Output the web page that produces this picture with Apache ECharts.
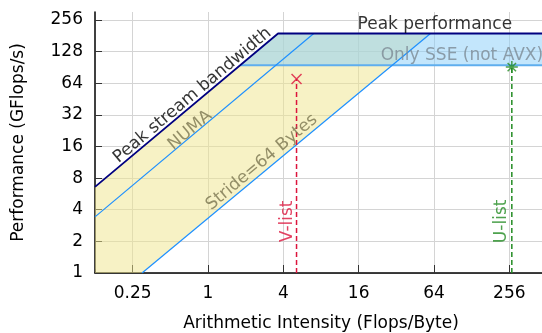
<!DOCTYPE html>
<html lang="en">
  <head>
    <meta charset="UTF-8" />
    <title>Roofline</title>
    <script src="https://cdn.jsdelivr.net/npm/echarts@6.0.0/dist/echarts.min.js"></script>
    <style>
      html, body { margin: 0; padding: 0; background: #fff; }
      #chart { width: 542px; height: 333px; }
    </style>
  </head>
  <body>
    <div id="chart"></div>
    <script type="text/javascript">
      // roofs as [Flops/Byte, GFlops/s] points
      const streamRoof = [[0.125, 6.6], [3.63, 190], [512, 190]];
      const numaRoof = [[0.125, 3.42], [7.0, 190]];
      const strideRoof = [[0.297, 1], [60, 190]];
      const sseRoof = [[1.81, 95], [512, 95]];

      // measured kernels
      const vList = [5.1, 70];
      const uList = [268, 91];

      const xRange = [0.125, 512];
      const yRange = [1, 304.4];

      // text, x, y, rotate, colour, align
      const notes = [
        ["Peak stream bandwidth", 0.75, 49, 40, "#000", "center"],
        ["NUMA", 0.72, 22.8, 40, "#7a7650", "center"],
        ["Stride=64 Bytes", 2.69, 11.3, 40, "#7a7650", "center"],
        ["Peak performance", 65, 232, 0, "#000", "center"],
        ["Only SSE (not AVX)", 24, 118, 0, "#7d8b95", "left"],
        ["V-list", 4.3, 3.1, 90, "#dc143c", "center"],
        ["U-list", 220, 3.1, 90, "#228b22", "center"],
      ];

      // fill areas built from the roof points
      const yellowPoly = [streamRoof[0], streamRoof[1], strideRoof[1], strideRoof[0], [xRange[0], yRange[0]]];
      const bluePoly = [sseRoof[0], streamRoof[1], streamRoof[2], sseRoof[1]];

      const font = "DejaVu Sans";
      const chart = echarts.init(document.getElementById("chart"));

      function polySeries(points, fill) {
        return {
          type: "custom",
          silent: true,
          z: 1,
          data: [0],
          renderItem: (params, api) => ({
            type: "polygon",
            shape: { points: points.map((p) => api.coord(p)) },
            style: { fill: fill },
          }),
        };
      }

      function lineSeries(data, color, width, dash) {
        return {
          type: "line",
          data: data,
          silent: true,
          showSymbol: false,
          z: 3,
          lineStyle: { color: color, width: width, type: dash || "solid" },
        };
      }

      const option = {
        animation: false,
        grid: { left: 95, right: -5, top: 12, bottom: 60, outerBoundsMode: "none", containLabel: false },
        xAxis: [
          {
            type: "log",
            logBase: 4,
            min: xRange[0],
            max: xRange[1],
            splitNumber: 6,
            name: "Arithmetic Intensity (Flops/Byte)",
            nameLocation: "middle",
            nameGap: 42,
            nameTextStyle: { fontFamily: font, fontSize: 17, color: "#000" },
            axisLine: { lineStyle: { color: "#000", width: 1.5 } },
            axisTick: { inside: true, length: 8, lineStyle: { color: "#333" } },
            axisLabel: {
              fontFamily: font,
              fontSize: 17,
              color: "#000",
              margin: 12,
              showMinLabel: false,
              showMaxLabel: false,
              formatter: (v) => String(+v.toPrecision(6)),
            },
            splitLine: {
              show: true,
              showMinLine: false,
              showMaxLine: false,
              lineStyle: { color: "#d4d4d4", width: 1 },
            },
          },
          {
            type: "log",
            logBase: 2,
            min: xRange[0],
            max: xRange[1],
            splitNumber: 12,
            position: "bottom",
            axisLine: { show: false },
            axisTick: { inside: true, length: 4, lineStyle: { color: "#333" } },
            axisLabel: { show: false },
            splitLine: { show: false },
          },
        ],
        yAxis: {
          type: "log",
          logBase: 2,
          min: yRange[0],
          max: yRange[1],
          splitNumber: 8,
          name: "Performance (GFlops/s)",
          nameLocation: "middle",
          nameGap: 68,
          nameTextStyle: { fontFamily: font, fontSize: 17, color: "#000" },
          axisLine: { show: true, lineStyle: { color: "#000", width: 1.5 } },
          axisTick: { show: true, inside: true, length: 7, lineStyle: { color: "#333" } },
          axisLabel: {
            fontFamily: font,
            fontSize: 17,
            color: "#000",
            margin: 12,
            showMaxLabel: false,
            formatter: (v) => String(+v.toPrecision(6)),
          },
          splitLine: {
            show: true,
            showMaxLine: false,
            lineStyle: { color: "#d4d4d4", width: 1 },
          },
        },
        series: [
          polySeries(yellowPoly, "rgba(240,230,140,0.5)"),
          polySeries(bluePoly, "rgba(135,206,250,0.5)"),
          lineSeries(sseRoof, "#5faeee", 2),
          lineSeries(numaRoof, "#1e90ff", 1.2),
          lineSeries(strideRoof, "#1e90ff", 1.2),
          lineSeries(streamRoof, "#000080", 1.8),
          lineSeries([[vList[0], yRange[0]], vList], "#dc143c", 1.5, [5, 3]),
          lineSeries([[uList[0], yRange[0]], uList], "#228b22", 1.5, [5, 3]),
          {
            type: "scatter",
            silent: true,
            z: 5,
            data: [vList],
            symbol: "path://M0,0L10,10M10,0L0,10",
            symbolSize: 10,
            itemStyle: { color: "none", borderColor: "#dc143c", borderWidth: 1.5 },
          },
          {
            type: "scatter",
            silent: true,
            z: 5,
            data: [uList],
            symbol: "path://M5,0L5,10M0,5L10,5M1.5,1.5L8.5,8.5M8.5,1.5L1.5,8.5",
            symbolSize: 12,
            itemStyle: { color: "none", borderColor: "#228b22", borderWidth: 1.5 },
          },
          {
            type: "scatter",
            silent: true,
            z: 6,
            symbolSize: 1,
            itemStyle: { color: "transparent" },
            data: notes.map((n) => ({
              value: [n[1], n[2]],
              label: {
                show: true,
                position: "inside",
                formatter: n[0],
                rotate: n[3],
                color: n[4],
                align: n[5],
                verticalAlign: "middle",
                fontFamily: font,
                fontSize: 17,
              },
            })),
          },
        ],
      };

      chart.setOption(option);
    </script>
  </body>
</html>
